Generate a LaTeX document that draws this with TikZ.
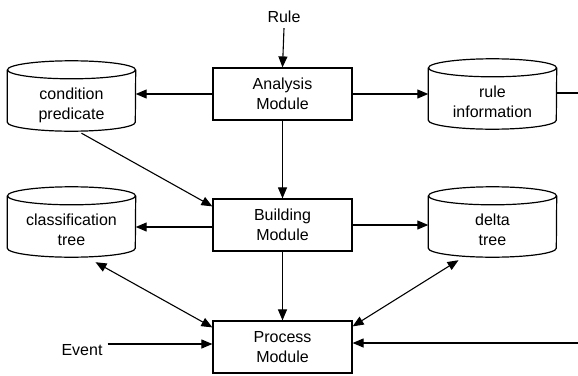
\documentclass[tikz,border=0pt]{standalone}
\usepackage{fontspec}
\setmainfont{Liberation Sans}
\usetikzlibrary{arrows.meta,calc}
\begin{document}
\begin{tikzpicture}[x=1pt,y=-1pt,
  txt/.style={font=\fontsize{16}{20}\selectfont, align=center, inner sep=1pt},
  modbox/.style={txt, draw, line width=1.2pt, minimum width=139pt, minimum height=52pt},
  cylbox/.style={minimum width=128pt, minimum height=70pt, inner sep=0pt},
  conn/.style={line width=1.1pt},
  arr/.style={conn, -{Triangle[length=11pt,width=9pt]}},
  arrb/.style={conn, {Triangle[length=11pt,width=9pt]}-{Triangle[length=11pt,width=9pt]}}]
\useasboundingbox (0,0) rectangle (578,375);

% modules
\node[modbox] (ana) at (282.5,94) {Analysis\\Module};
\node[modbox] (bld) at (282.5,225) {Building\\Module};
\node[modbox] (prc) at (282.5,347) {Process\\Module};

% cylinders (stores)
\node[cylbox] (cp) at (71.5,96) {};
\node[cylbox] (ri) at (492.5,94) {};
\node[cylbox] (ct) at (71.5,222) {};
\node[cylbox] (dt) at (492.5,222) {};
\foreach \n in {cp,ri,ct,dt}{
  \draw[line width=1.2pt] ($(\n.north)+(0,9)$) ellipse[x radius=64pt, y radius=9pt];
  \draw[line width=1.2pt] ($(\n.north west)+(0,9)$) -- ($(\n.south west)+(0,-9)$)
    arc[start angle=180, end angle=360, x radius=64pt, y radius=9pt]
    -- ($(\n.north east)+(0,9)$);
}
\node[txt] (cpt) at (71.5,105) {condition\\predicate};
\node[txt] (rit) at (492.5,102) {rule\\information};
\node[txt] (ctt) at (71.5,230) {classification\\tree};
\node[txt] (dtt) at (492.5,230) {delta\\tree};

% texts
\node[txt] (rule) at (284,17) {Rule};
\node[txt] (evt) at (82,350) {Event};
\coordinate (riout) at (578,93);
\coordinate (pin) at (578,343);

% connectors
\draw[arr] (rule.south) ++(0,4) -- (ana.north);
\draw[arr] (ana.west) -- (ana.west -| cp.east);
\draw[arr] (ana.east) -- (ana.east -| ri.west);
\draw[conn] (riout -| ri.east) -- (riout);
\draw[arr] ($(cp.south)+(10,2)$) -- ($(bld.north west)+(0,8)$);
\draw[arr] (ana.south) -- (bld.north);
\draw[arr] ($(bld.west)+(0,2)$) -- ($(bld.west -| ct.east)+(0,2)$);
\draw[arr] (bld.east) -- (bld.east -| dt.west);
\draw[arr] (bld.south) -- (prc.north);
\draw[arrb] ($(ct.south)+(24,5)$) -- ($(prc.north west)+(0,7)$);
\draw[arrb] ($(dt.south)+(-34,3)$) -- ($(prc.north east)+(0,6)$);
\draw[arr] ($(evt.east)+(4,-6)$) -- ($(evt.east -| prc.west)+(0,-6)$);
\draw[arr] (pin) -- (pin -| prc.east);
\end{tikzpicture}
\end{document}
